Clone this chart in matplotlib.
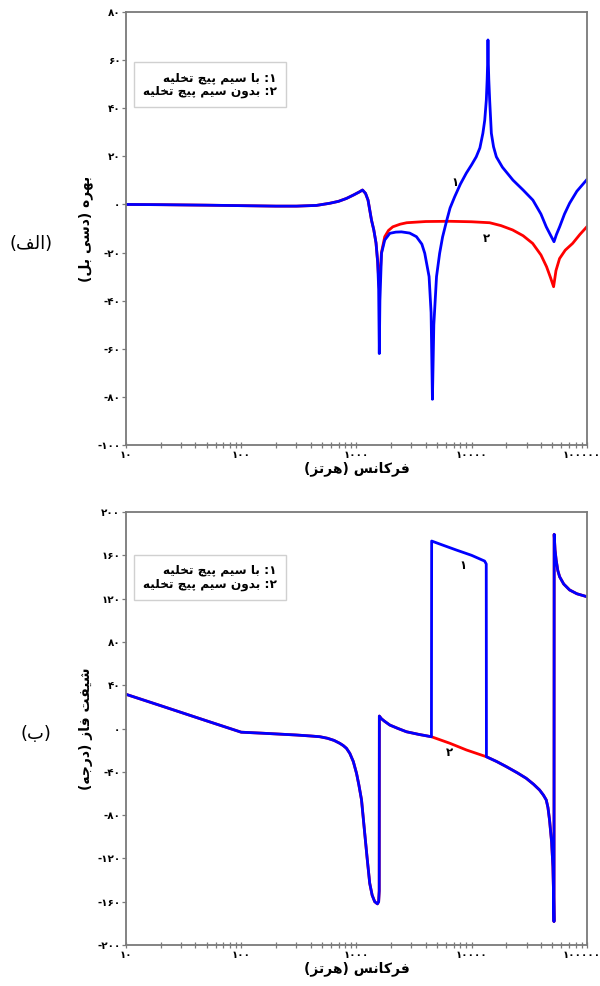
import matplotlib
matplotlib.use("Agg")
import matplotlib.pyplot as plt
from matplotlib.ticker import FixedLocator, FuncFormatter, LogLocator, NullFormatter
from matplotlib.transforms import ScaledTranslation

plt.rcParams['font.family'] = ['DejaVu Sans']

# ---------------- data ----------------
# Gain (dB), curve 1: with discharge coil
gain_freq_1 = [10, 20, 50, 100, 200, 302, 450, 588, 700, 820, 950, 1060, 1130, 1200, 1262,
               1352, 1416, 1480, 1530, 1560, 1580, 1600, 1652, 1762, 1950, 2200, 2460, 2900,
               3320, 3700, 3920, 4275, 4450, 4570, 4700, 4960, 5280, 5600, 6040, 6500, 7130,
               8000, 8990, 10000, 10970, 11800, 12530, 13000, 13420, 13650, 13800, 13870, 13950,
               14100, 14350, 14840, 15500, 16400, 18500, 22870, 28000, 34040, 40000, 44460,
               48500, 51900, 54500, 58100, 64000, 70900, 82000, 100000]
gain_1 = [0.0, -0.1, -0.3, -0.5, -0.7, -0.7, -0.4, 0.5, 1.3, 2.5, 4.0, 5.2, 6.0, 4.6, 1.8,
          -6.5, -10.6, -16.0, -24.0, -35.0, -62.0, -40.0, -20.3, -14.8, -12.0, -11.5, -11.4, -11.9,
          -13.4, -16.5, -20.3, -30.0, -45.0, -81.0, -50.0, -30.0, -20.3, -13.5, -7.2, -1.5, 3.2,
          8.5, 13.0, 16.5, 19.8, 23.5, 29.6, 35.0, 43.4, 52.0, 60.0, 68.4, 60.0,
          52.0, 43.4, 29.6, 24.0, 19.8, 15.5, 10.1, 6.0, 1.8, -4.0, -9.3,
          -12.8, -15.5, -12.5, -9.3, -4.0, 0.5, 5.5, 10.3]

# Gain (dB), curve 2: without discharge coil
gain_freq_2 = [10, 20, 50, 100, 200, 302, 450, 588, 700, 820, 950, 1060, 1130, 1200, 1262,
               1352, 1416, 1480, 1530, 1580, 1650, 1762, 1900, 2070, 2400, 2735, 4000, 6460,
               10000, 14350, 18000, 22700, 28000, 33900, 40000, 44750, 48500, 51500, 54000,
               58000, 65000, 75300, 87000, 100000]
gain_2 = [0.0, -0.1, -0.3, -0.5, -0.7, -0.7, -0.4, 0.5, 1.3, 2.5, 4.0, 5.2, 6.0, 4.6, 1.8,
          -6.5, -10.6, -16.0, -24.0, -35.0, -20.0, -13.4, -10.8, -9.3, -8.2, -7.6, -7.1, -7.0,
          -7.2, -7.6, -8.8, -10.6, -13.0, -16.2, -21.0, -25.9, -30.5, -34.2, -27.5,
          -22.5, -19.0, -16.2, -12.5, -9.3]

# Phase shift (degrees), curve 1
phase_freq_1 = [10, 20, 50, 100, 150, 200, 300, 400, 482, 560, 640, 718, 770, 820, 877, 940,
                1003, 1050, 1108, 1181, 1240, 1305, 1370, 1442, 1522, 1560, 1578, 1582, 1650,
                1750, 1950, 2300, 2718, 3500, 4480, 4500, 5500, 7370, 10000, 12970, 13400, 13450,
                16500, 20000, 25000, 29800, 34500, 38900, 42000, 44460, 46000, 47500, 49500,
                50800, 51500, 51900, 52100, 53000, 54200, 56000, 58100, 63000, 70900, 82000, 100000]
phase_1 = [31.6, 21.1, 7.1, -3.4, -4.3, -5.0, -6.0, -6.9, -7.6, -9.0, -11.0, -13.7, -15.8, -18.3,
           -23.0, -30.5, -41.5, -52.0, -66.0, -96.8, -120.0, -143.0, -154.0, -160.0, -162.0,
           -160.0, -150.0, 11.5, 9.0, 6.8, 3.2, 0.0, -3.0, -5.5, -7.6, 173.2, 169.8, 164.9, 160.0,
           154.7, 152.0, -26.1, -30.5, -35.2, -41.0, -46.0, -51.5, -56.8, -61.5, -66.0, -73.0,
           -84.6, -105.0, -127.6, -155.0, -178.4, 179.4, 165.0, 155.7, 146.0, 140.2, 133.5,
           128.0, 124.5, 121.8]

# Phase shift (degrees), curve 2
phase_freq_2 = [10, 20, 50, 100, 150, 200, 300, 400, 482, 560, 640, 718, 770, 820, 877, 940,
                1003, 1050, 1108, 1181, 1240, 1305, 1370, 1442, 1522, 1560, 1578, 1582, 1650,
                1750, 1950, 2300, 2718, 3500, 4480, 6460, 9000, 13450,
                16500, 20000, 25000, 29800, 34500, 38900, 42000, 44460, 46000, 47500, 49500,
                50800, 51500, 51900, 52100, 53000, 54200, 56000, 58100, 63000, 70900, 82000, 100000]
phase_2 = [31.6, 21.1, 7.1, -3.4, -4.3, -5.0, -6.0, -6.9, -7.6, -9.0, -11.0, -13.7, -15.8, -18.3,
           -23.0, -30.5, -41.5, -52.0, -66.0, -96.8, -120.0, -143.0, -154.0, -160.0, -162.0,
           -160.0, -150.0, 11.5, 9.0, 6.8, 3.2, 0.0, -3.0, -5.5, -7.6, -13.6, -19.8, -26.1,
           -30.5, -35.2, -41.0, -46.0, -51.5, -56.8, -61.5, -66.0, -73.0,
           -84.6, -105.0, -127.6, -155.0, -178.4, 179.4, 165.0, 155.7, 146.0, 140.2, 133.5,
           128.0, 124.5, 121.8]

x_ticks = [10, 100, 1000, 10000, 100000]
gain_ticks = [-100, -80, -60, -40, -20, 0, 20, 40, 60, 80]
phase_ticks = [-200, -160, -120, -80, -40, 0, 40, 80, 120, 160, 200]

legend_lines = ["۱: با سیم پیچ تخلیه", "۲: بدون سیم پیچ تخلیه"]
x_label = "فرکانس (هرتز)"
gain_label = "بهره (دسی بل)"
phase_label = "شیفت فاز (درجه)"
panel_labels = ["(الف)", "(ب)"]

# ---------------- Persian shaping (presentation forms, visual order) ----------------
FORMS = {
    'ا': ('\uFE8D', '\uFE8E', None, None),
    'ب': ('\uFE8F', '\uFE90', '\uFE91', '\uFE92'),
    'پ': ('\uFB56', '\uFB57', '\uFB58', '\uFB59'),
    'ت': ('\uFE95', '\uFE96', '\uFE97', '\uFE98'),
    'ج': ('\uFE9D', '\uFE9E', '\uFE9F', '\uFEA0'),
    'چ': ('\uFB7A', '\uFB7B', '\uFB7C', '\uFB7D'),
    'خ': ('\uFEA5', '\uFEA6', '\uFEA7', '\uFEA8'),
    'د': ('\uFEA9', '\uFEAA', None, None),
    'ر': ('\uFEAD', '\uFEAE', None, None),
    'ز': ('\uFEAF', '\uFEB0', None, None),
    'س': ('\uFEB1', '\uFEB2', '\uFEB3', '\uFEB4'),
    'ش': ('\uFEB5', '\uFEB6', '\uFEB7', '\uFEB8'),
    'ف': ('\uFED1', '\uFED2', '\uFED3', '\uFED4'),
    'ک': ('\uFB8E', '\uFB8F', '\uFB90', '\uFB91'),
    'ل': ('\uFEDD', '\uFEDE', '\uFEDF', '\uFEE0'),
    'م': ('\uFEE1', '\uFEE2', '\uFEE3', '\uFEE4'),
    'ن': ('\uFEE5', '\uFEE6', '\uFEE7', '\uFEE8'),
    'ه': ('\uFEE9', '\uFEEA', '\uFEEB', '\uFEEC'),
    'و': ('\uFEED', '\uFEEE', None, None),
    'ی': ('\uFBFC', '\uFBFD', '\uFBFE', '\uFBFF'),
}


def shape(text):
    out = []
    n = len(text)
    for i, c in enumerate(text):
        if c not in FORMS:
            out.append(c)
            continue
        f = FORMS[c]
        prev = text[i - 1] if i > 0 else None
        nxt = text[i + 1] if i < n - 1 else None
        jp = prev in FORMS and FORMS[prev][2] is not None
        jn = nxt in FORMS and f[2] is not None
        if jp and jn:
            out.append(f[3])
        elif jp:
            out.append(f[1])
        elif jn:
            out.append(f[2])
        else:
            out.append(f[0])
    vis = ''.join(reversed(out))
    return vis.translate(str.maketrans({'(': ')', ')': '('}))


FA_DIGITS = str.maketrans('0123456789', '۰۱۲۳۴۵۶۷۸۹')


def fa_num(v, pos=None):
    return ('%d' % round(v)).translate(FA_DIGITS)


# ---------------- figure ----------------
fig = plt.figure(figsize=(6.0, 9.86), dpi=100)
ax1 = fig.add_axes([0.210, 0.5487, 0.768, 0.4391])
ax2 = fig.add_axes([0.210, 0.0416, 0.768, 0.4391])

BLUE = '#0000ff'
RED = '#ff0000'
SPINE = '#7a7a7a'

ax1.plot(gain_freq_2, gain_2, color=RED, lw=2.0, solid_joinstyle='round')
ax1.plot(gain_freq_1, gain_1, color=BLUE, lw=2.0, solid_joinstyle='round')
ax2.plot(phase_freq_2, phase_2, color=RED, lw=2.0, solid_joinstyle='round')
ax2.plot(phase_freq_1, phase_1, color=BLUE, lw=2.0, solid_joinstyle='round')

for ax, ticks, lbl in [(ax1, gain_ticks, gain_label), (ax2, phase_ticks, phase_label)]:
    ax.set_xscale('log')
    ax.set_xlim(10, 100000)
    ax.set_ylim(ticks[0], ticks[-1])
    ax.xaxis.set_major_locator(FixedLocator(x_ticks))
    ax.xaxis.set_minor_locator(LogLocator(base=10, subs=range(2, 10), numticks=20))
    ax.xaxis.set_minor_formatter(NullFormatter())
    ax.xaxis.set_major_formatter(FuncFormatter(fa_num))
    ax.yaxis.set_major_locator(FixedLocator(ticks))
    ax.yaxis.set_major_formatter(FuncFormatter(fa_num))
    for s in ax.spines.values():
        s.set_color(SPINE)
        s.set_linewidth(1.3)
    ax.tick_params(axis='x', which='both', direction='inout', length=5, width=0.9,
                   color=SPINE, pad=1)
    ax.tick_params(axis='y', which='major', direction='out', length=3, width=0.9,
                   color=SPINE, pad=1)
    for t in ax.get_xticklabels() + ax.get_yticklabels():
        t.set_fontsize(7.5)
        t.set_fontweight('bold')
    # keep the right-most frequency label inside the figure
    last = ax.xaxis.get_major_ticks()[-1].label1
    last.set_transform(last.get_transform() + ScaledTranslation(-4 / 72, 0, fig.dpi_scale_trans))
    ax.set_xlabel(shape(x_label), fontsize=10, fontweight='bold', labelpad=1)
    ax.set_ylabel(shape(lbl), fontsize=10, fontweight='bold', labelpad=3)

# legend boxes (text blocks)
for ax, y0 in [(ax1, 0.8326), (ax2, 0.849)]:
    ax.text(0.182, y0, shape(legend_lines[0]) + '\n' + shape(legend_lines[1]),
            transform=ax.transAxes, ha='center', va='center', multialignment='right',
            fontsize=8.7, fontweight='bold', linespacing=1.15,
            bbox=dict(boxstyle='square,pad=0.75', fc='white', ec='#d0d0d0', lw=1.0))

# curve labels
ax1.text(7130, 9.3, fa_num(1), fontsize=8.5, fontweight='bold', ha='center', va='center')
ax1.text(13520, -14.0, fa_num(2), fontsize=8.5, fontweight='bold', ha='center', va='center')
ax2.text(8380, 151, fa_num(1), fontsize=8.5, fontweight='bold', ha='center', va='center')
ax2.text(6460, -22.6, fa_num(2), fontsize=8.5, fontweight='bold', ha='center', va='center')

# panel labels
fig.text(31 / 600, 1 - 244 / 986, shape(panel_labels[0]), fontsize=13, ha='center', va='center')
fig.text(36 / 600, 1 - 734 / 986, shape(panel_labels[1]), fontsize=13, ha='center', va='center')

fig.savefig('out.png', dpi=100)
